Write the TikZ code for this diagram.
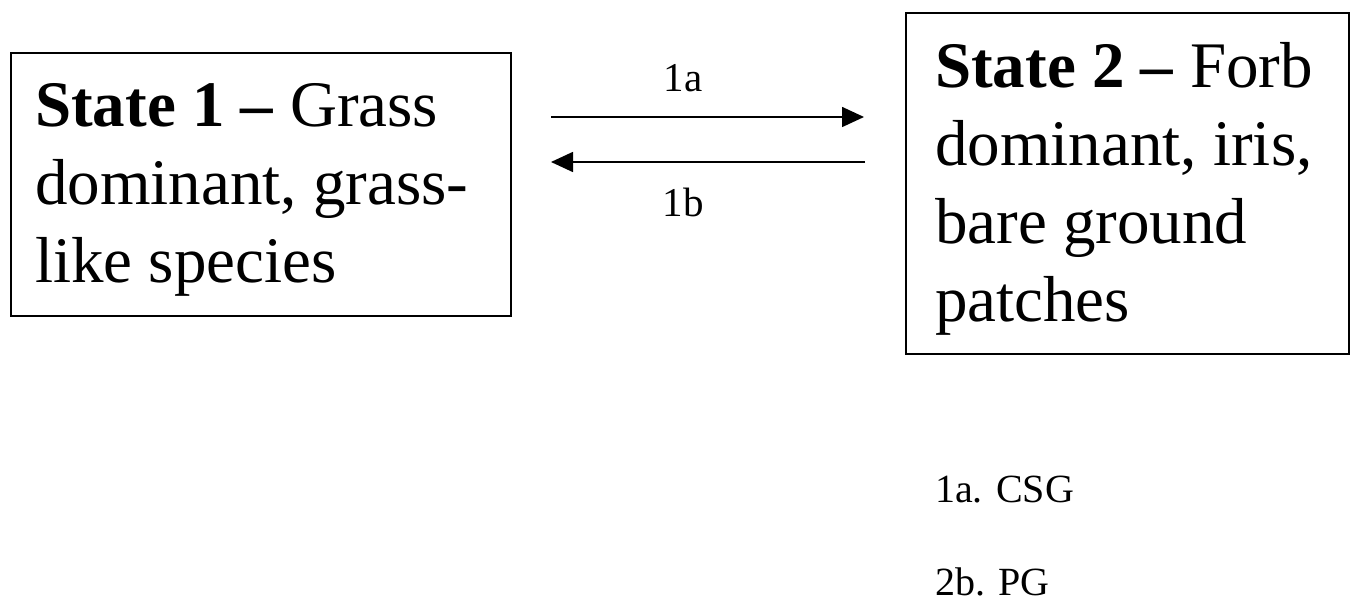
\documentclass[tikz,border=0pt]{standalone}
\usepackage{fontspec}
\setmainfont{Liberation Serif}
\usetikzlibrary{arrows.meta}
\begin{document}
\begin{tikzpicture}[x=1pt,y=-1pt,
  box/.style={draw,line width=1.8pt,minimum width=#1,inner sep=0pt,anchor=north west},
  bigtxt/.style={anchor=base west,inner sep=0pt,font=\fontsize{65}{78}\selectfont},
  smalltxt/.style={anchor=base,inner sep=0pt,font=\fontsize{41}{48}\selectfont},
  notetxt/.style={anchor=base west,inner sep=0pt,font=\fontsize{40}{48}\selectfont},
  arr/.style={line width=1.6pt,-{Triangle[length=22pt,width=20pt]}}]
\useasboundingbox (0,0) rectangle (1350,612);
\node[box=500pt,minimum height=263pt] (s1) at (10,52) {};
\node[box=443pt,minimum height=341pt] (s2) at (905,12) {};
\node[bigtxt] (s1a) at (35,127) {\textbf{State 1 –} Grass};
\node[bigtxt] (s1b) at (35,205) {dominant, grass-};
\node[bigtxt] (s1c) at (35,283) {like species};
\node[bigtxt] (s2a) at (935,88) {\textbf{State 2 –} Forb};
\node[bigtxt] (s2b) at (935,166) {dominant, iris,};
\node[bigtxt] (s2c) at (935,244) {bare ground};
\node[bigtxt] (s2d) at (935,322) {patches};
\coordinate (a1) at (551,117);
\coordinate (a2) at (864,117);
\coordinate (b1) at (865,162);
\coordinate (b2) at (551,162);
\draw[arr] (a1) -- (a2);
\draw[arr] (b1) -- (b2);
\node[smalltxt] (l1a) at (683,92) {1a};
\node[smalltxt] (l1b) at (683,217) {1b};
\node[notetxt] (n1) at (935,502) {1a. CSG};
\node[notetxt] (n2) at (935,595) {2b. PG};
\end{tikzpicture}
\end{document}
